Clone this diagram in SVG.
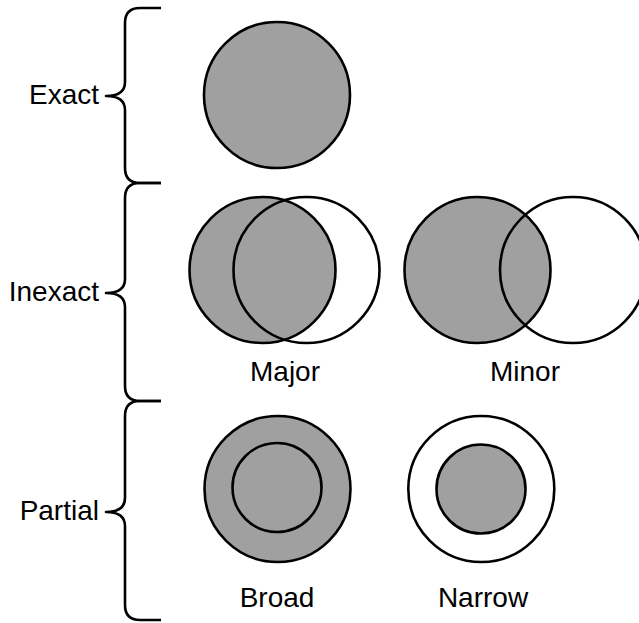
<svg xmlns="http://www.w3.org/2000/svg" width="639" height="623" viewBox="0 0 639 623">
<style>
.g{fill:#a0a0a0;stroke:#000;stroke-width:2.6}
.w{fill:#fff;stroke:#000;stroke-width:2.6}
.o{fill:none;stroke:#000;stroke-width:2.6}
.b{fill:none;stroke:#000;stroke-width:2.6;stroke-linejoin:round}
text{font-family:"Liberation Sans",Arial,sans-serif;font-size:28px;fill:#000}
.c{text-anchor:middle}
.r{text-anchor:end}
</style>
<rect width="639" height="623" fill="#fff"/>
<g id="braces">
<path class="b" d="M161,8 H140 Q125,8 125,23 V82 Q125,96 106,96 Q125,96 125,110 V168 Q125,183 140,183 H161"/>
<path class="b" d="M161,183 H140 Q125,183 125,198 V279 Q125,293 106,293 Q125,293 125,307 V386 Q125,401 140,401 H161"/>
<path class="b" d="M161,401 H140 Q125,401 125,416 V498 Q125,512 106,512 Q125,512 125,526 V605 Q125,620 140,620 H161"/>
</g>
<g id="exact-label"><text class="r" x="99" y="104">Exact</text></g>
<g id="inexact-label"><text class="r" x="99" y="301">Inexact</text></g>
<g id="partial-label"><text class="r" x="99" y="520">Partial</text></g>
<g id="exact"><circle class="g" cx="277" cy="95" r="73"/></g>
<g id="major">
<circle class="g" cx="262.5" cy="270" r="73"/>
<circle class="o" cx="306.5" cy="270" r="73"/>
<text class="c" x="285" y="381">Major</text>
</g>
<g id="minor">
<circle class="g" cx="477.5" cy="270" r="73"/>
<circle class="o" cx="573" cy="270" r="73"/>
<text class="c" x="525" y="381">Minor</text>
</g>
<g id="broad">
<circle class="g" cx="277.5" cy="489" r="73"/>
<circle class="o" cx="277" cy="487.5" r="44.5"/>
<text class="c" x="277" y="607">Broad</text>
</g>
<g id="narrow">
<circle class="w" cx="481.3" cy="489" r="73"/>
<circle class="g" cx="481" cy="489" r="44.5"/>
<text class="c" x="483" y="607">Narrow</text>
</g>
</svg>
